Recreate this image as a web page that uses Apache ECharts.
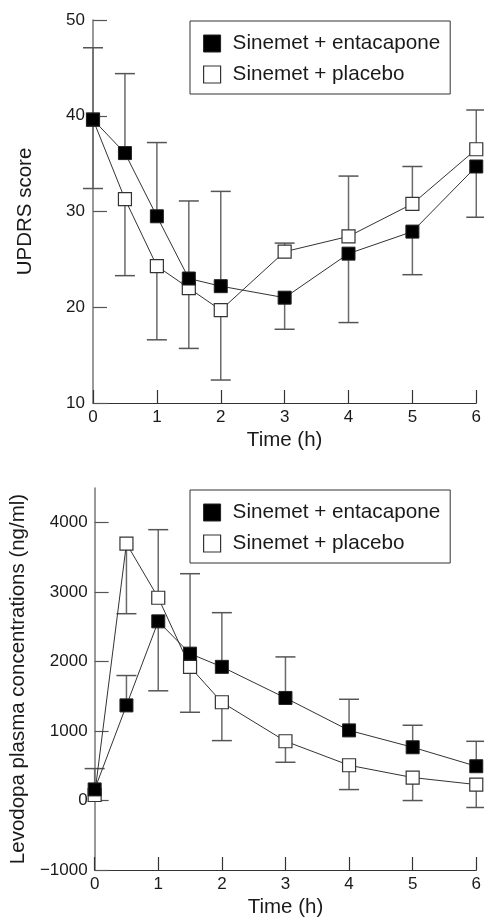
<!DOCTYPE html>
<html>
<head>
<meta charset="utf-8">
<script src="https://cdn.jsdelivr.net/npm/echarts@6/dist/echarts.min.js"></script>
<style>
html,body{margin:0;padding:0;background:#fff;}
#chart{width:484px;height:919px;}
</style>
</head>
<body>
<div id="chart"></div>
<script>
const hours = [0, 0.5, 1, 1.5, 2, 3, 4, 5, 6];
const seriesNames = ['Sinemet + entacapone', 'Sinemet + placebo'];

const updrsEntacapone = [39.6, 36.1, 29.5, 23.0, 22.2, 21.0, 25.6, 27.9, 34.7];
const updrsPlacebo = [39.6, 31.3, 24.3, 22.0, 19.7, 25.8, 27.4, 30.8, 36.5];
const updrsEntacaponeBarEnd = [47.1, 44.4, 37.2, 31.1, 32.1, 17.7, 18.4, 23.4, 29.4];
const updrsPlaceboBarEnd = [32.4, 23.3, 16.6, 15.7, 12.4, 26.7, 33.7, 34.7, 40.6];

const levoEntacapone = [160, 1370, 2580, 2115, 1925, 1477, 1010, 767, 494];
const levoPlacebo = [80, 3700, 2920, 1924, 1415, 854, 508, 331, 230];
const levoEntacaponeBarEnd = [460, 1800, 1580, 3266, 2705, 2068, 1458, 1084, 853];
const levoPlaceboBarEnd = [null, 2690, 3900, 1271, 863, 551, 158, 0, -100];

const updrsTicks = [10, 20, 30, 40, 50];
const levoTicks = [-1000, 0, 1000, 2000, 3000, 4000];
const hourTicks = [0, 1, 2, 3, 4, 5, 6];

const FONT = 'Liberation Sans, Arial, Helvetica, sans-serif';
const chart = echarts.init(document.getElementById('chart'), null, {renderer: 'canvas'});

function pairs(vals) { return hours.map((h, i) => [h, vals[i]]); }
function errData(vals, ends) {
  const out = [];
  hours.forEach((h, i) => { if (ends[i] !== null) out.push([h, vals[i], ends[i]]); });
  return out;
}
function errRender(params, api) {
  const x = api.value(0), v = api.value(1), e = api.value(2);
  const p0 = api.coord([x, v]);
  const p1 = api.coord([x, e]);
  return {
    type: 'group',
    children: [
      {type: 'line', shape: {x1: p0[0], y1: p0[1], x2: p1[0], y2: p1[1]}, style: {stroke: '#6a6a6a', lineWidth: 1.5}},
      {type: 'line', shape: {x1: p1[0] - 10, y1: p1[1], x2: p1[0] + 10, y2: p1[1]}, style: {stroke: '#555', lineWidth: 1.5}}
    ]
  };
}
function xAxisDef(gi) {
  return {
    type: 'value', gridIndex: gi, min: 0, max: 6, interval: 1,
    name: 'Time (h)', nameLocation: 'middle', nameGap: 27,
    nameTextStyle: {fontFamily: FONT, fontSize: 20.5, color: '#1a1a1a'},
    axisLine: {onZero: false, lineStyle: {color: '#333', width: 1.2}},
    axisTick: {inside: true, length: 13, customValues: hourTicks, lineStyle: {color: '#333', width: 1.2}},
    axisLabel: {margin: 6, fontFamily: FONT, fontSize: 17, color: '#1a1a1a', customValues: hourTicks},
    splitLine: {show: false}
  };
}
function lineSeries(name, data, xi, black) {
  return {
    type: 'line', name: name, xAxisIndex: xi, yAxisIndex: xi, data: data,
    symbol: 'rect', symbolSize: 13, clip: false, z: black ? 4 : 3,
    lineStyle: {color: '#333', width: 1},
    itemStyle: black ? {color: '#000', borderColor: '#222', borderWidth: 1}
                     : {color: '#fff', borderColor: '#333', borderWidth: 1.2}
  };
}
function legendDef(top) {
  return {
    left: 190, top: top, orient: 'vertical',
    padding: [12, 10, 9, 13], itemGap: 10,
    itemWidth: 17, itemHeight: 17,
    borderColor: '#333', borderWidth: 1,
    textStyle: {fontFamily: FONT, fontSize: 20.7, color: '#1a1a1a', padding: [0, 0, 0, 7]},
    data: [
      {name: seriesNames[0], icon: 'rect', itemStyle: {color: '#000', borderColor: '#222', borderWidth: 1}},
      {name: seriesNames[1], icon: 'rect', itemStyle: {color: '#fff', borderColor: '#333', borderWidth: 1.2}}
    ],
    selectedMode: false
  };
}

const option = {
  animation: false,
  backgroundColor: '#fff',
  grid: [
    {left: 93, right: 4, top: 20, height: 383},
    {left: 93, right: 4, top: 488, height: 383}
  ],
  legend: [legendDef(21), legendDef(490)],
  xAxis: [xAxisDef(0), xAxisDef(1)],
  yAxis: [
    {
      type: 'value', gridIndex: 0, min: 10, max: 50, interval: 10,
      name: 'UPDRS score', nameLocation: 'middle', nameGap: 57,
      nameTextStyle: {fontFamily: FONT, fontSize: 20.5, color: '#1a1a1a'},
      axisLine: {show: true, lineStyle: {color: '#777', width: 1.5}},
      axisTick: {inside: true, length: 14, customValues: updrsTicks, lineStyle: {color: '#555', width: 1.2}},
      axisLabel: {margin: 8, fontFamily: FONT, fontSize: 17, color: '#1a1a1a', customValues: updrsTicks},
      splitLine: {show: false}
    },
    {
      type: 'value', gridIndex: 1, min: -1000, max: 4500, interval: 1000,
      name: 'Levodopa plasma concentrations (ng/ml)', nameLocation: 'middle', nameGap: 57,
      nameTextStyle: {fontFamily: FONT, fontSize: 20.5, color: '#1a1a1a'},
      axisLine: {show: true, lineStyle: {color: '#777', width: 1.5}},
      axisTick: {inside: true, length: 14, customValues: levoTicks, lineStyle: {color: '#555', width: 1.2}},
      axisLabel: {margin: 7, fontFamily: FONT, fontSize: 17, color: '#1a1a1a', customValues: levoTicks,
        formatter: v => String(v).replace('-', '\u2212')},
      splitLine: {show: false}
    }
  ],
  series: [
    {type: 'custom', xAxisIndex: 0, yAxisIndex: 0, z: 1, renderItem: errRender, data: errData(updrsEntacapone, updrsEntacaponeBarEnd)},
    {type: 'custom', xAxisIndex: 0, yAxisIndex: 0, z: 1, renderItem: errRender, data: errData(updrsPlacebo, updrsPlaceboBarEnd)},
    {type: 'custom', xAxisIndex: 1, yAxisIndex: 1, z: 1, renderItem: errRender, data: errData(levoEntacapone, levoEntacaponeBarEnd)},
    {type: 'custom', xAxisIndex: 1, yAxisIndex: 1, z: 1, renderItem: errRender, data: errData(levoPlacebo, levoPlaceboBarEnd)},
    lineSeries(seriesNames[1], pairs(updrsPlacebo), 0, false),
    lineSeries(seriesNames[0], pairs(updrsEntacapone), 0, true),
    lineSeries(seriesNames[1], pairs(levoPlacebo), 1, false),
    lineSeries(seriesNames[0], pairs(levoEntacapone), 1, true)
  ]
};
chart.setOption(option);
</script>
</body>
</html>
